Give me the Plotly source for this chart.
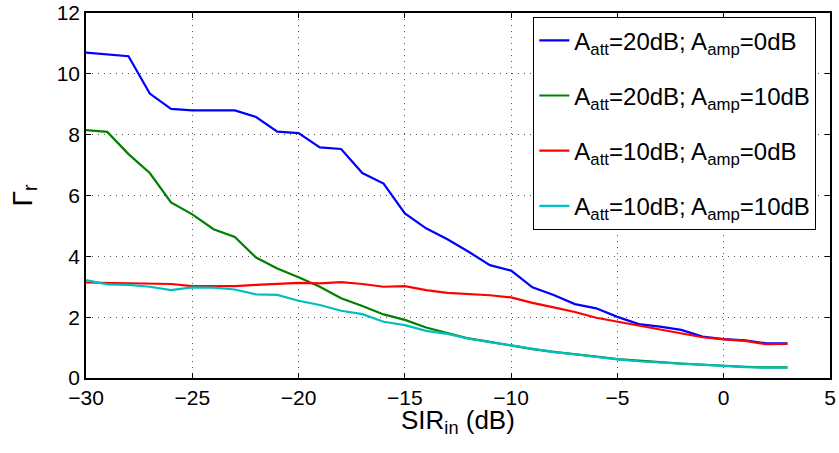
import plotly.graph_objects as go

x_vals = list(range(-30, 4))

gamma_20_0 = [10.70, 10.64, 10.58, 9.35, 8.85, 8.80, 8.80, 8.80, 8.58, 8.10, 8.05, 7.58, 7.53,
              6.74, 6.39, 5.41, 4.92, 4.56, 4.15, 3.71, 3.53, 2.98, 2.73, 2.43, 2.29, 2.01,
              1.77, 1.69, 1.58, 1.36, 1.28, 1.24, 1.14, 1.14]
gamma_20_10 = [8.15, 8.09, 7.36, 6.74, 5.77, 5.38, 4.89, 4.64, 3.96, 3.60, 3.31, 3.00, 2.62,
               2.37, 2.09, 1.91, 1.66, 1.49, 1.30, 1.19, 1.07, 0.95, 0.86, 0.79, 0.70, 0.62,
               0.56, 0.52, 0.47, 0.43, 0.39, 0.37, 0.35, 0.35]
gamma_10_0 = [3.14, 3.13, 3.11, 3.10, 3.09, 3.02, 3.02, 3.02, 3.06, 3.09, 3.13, 3.11, 3.15,
              3.09, 3.00, 3.02, 2.89, 2.80, 2.77, 2.72, 2.65, 2.47, 2.32, 2.17, 1.98, 1.85,
              1.71, 1.60, 1.47, 1.34, 1.27, 1.22, 1.11, 1.12]
gamma_10_10 = [3.22, 3.08, 3.06, 3.00, 2.89, 2.98, 2.97, 2.91, 2.75, 2.73, 2.54, 2.40, 2.21,
               2.10, 1.85, 1.74, 1.55, 1.45, 1.29, 1.18, 1.06, 0.94, 0.85, 0.78, 0.69, 0.61,
               0.55, 0.51, 0.46, 0.42, 0.38, 0.36, 0.34, 0.34]

series = [
    ("A<sub>att</sub>=20dB; A<sub>amp</sub>=0dB", gamma_20_0, "#0000ff"),
    ("A<sub>att</sub>=20dB; A<sub>amp</sub>=10dB", gamma_20_10, "#008000"),
    ("A<sub>att</sub>=10dB; A<sub>amp</sub>=0dB", gamma_10_0, "#ff0000"),
    ("A<sub>att</sub>=10dB; A<sub>amp</sub>=10dB", gamma_10_10, "#00bfbf"),
]

x_ticks = [-30, -25, -20, -15, -10, -5, 0, 5]
y_ticks = [0, 2, 4, 6, 8, 10, 12]

fig = go.Figure()
for i, (name, vals, color) in enumerate(series):
    fig.add_trace(go.Scatter(x=x_vals, y=vals, mode="lines", name=name,
                             legendgroup=f"g{i}",
                             line=dict(color=color, width=2.2)))

axis_common = dict(showline=True, linecolor="black", linewidth=1.5, mirror="ticks",
                   ticks="inside", ticklen=5, tickcolor="black", automargin=False,
                   showgrid=True, gridcolor="#555555", griddash="1px,5px", gridwidth=1,
                   zeroline=False, tickfont=dict(size=21, color="black"))

fig.update_layout(
    width=839, height=453,
    margin=dict(l=86, r=9, t=13, b=75),
    paper_bgcolor="white", plot_bgcolor="white",
    font=dict(family="Liberation Sans, Arial, sans-serif", color="black"),
    xaxis=dict(range=[-30, 5], tickvals=x_ticks, **axis_common),
    yaxis=dict(range=[0, 12], tickvals=y_ticks, **axis_common),
    legend=dict(x=0.601, y=0.989, xanchor="left", yanchor="top",
                bordercolor="black", borderwidth=1.2, bgcolor="white",
                font=dict(size=24), tracegroupgap=21, traceorder="grouped",
                itemwidth=30),
    showlegend=True,
    annotations=[
        dict(text="SIR<sub>in</sub> (dB)", xref="paper", yref="paper",
             x=0.5, y=0, xanchor="center", yanchor="top", yshift=-25,
             showarrow=False, font=dict(size=26)),
        dict(text="Γ<sub>r</sub>", xref="paper", yref="paper",
             x=0, y=0.5, xanchor="center", yanchor="middle", xshift=-62,
             textangle=-90, showarrow=False, font=dict(size=28)),
    ],
)

fig.write_html("out.html", config={"displayModeBar": False},
               post_script="document.body.style.margin='0';document.body.style.overflow='hidden';")
